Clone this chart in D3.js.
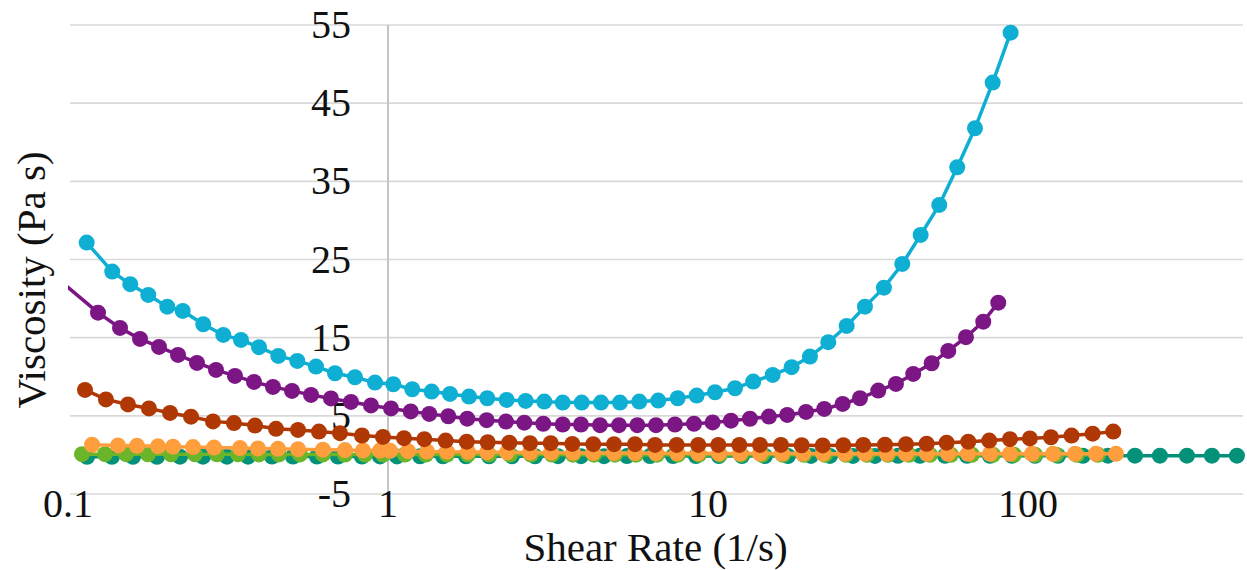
<!DOCTYPE html>
<html>
<head>
<meta charset="utf-8">
<title>Viscosity vs Shear Rate</title>
<script src="https://cdnjs.cloudflare.com/ajax/libs/d3/7.8.5/d3.min.js"></script>
<style>
  body { margin: 0; background: #fff; }
  svg text { font-family: "Liberation Serif", "DejaVu Serif", serif; fill: #111; }
</style>
</head>
<body>
<svg id="chart" width="1247" height="570"></svg>
<script>
// ---- data (shear rate in 1/s, viscosity in Pa s) ----
var tealX = [0.1147,0.1372,0.1596,0.1897,0.2239,0.2641,0.3139,0.3652,0.4341,0.5048,0.5999,0.6978,0.8293,0.9441,1.067,1.259,1.485,1.753,2.069,2.441,2.880,3.398,4.010,4.732,5.583,6.589,7.776,9.173,10.82,12.77,15.07,17.78,20.98,24.06,28.39,33.26,39.25,45.97,55.04,64.48,76.08,89.13,105.2,124.1,148.5,177.8,216.0,258.5,314.0,375.8,450.0];
var tealY = [-0.25,-0.25,-0.24,-0.24,-0.23,-0.23,-0.22,-0.22,-0.21,-0.21,-0.2,-0.2,-0.2,-0.19,-0.19,-0.18,-0.18,-0.18,-0.17,-0.17,-0.17,-0.16,-0.16,-0.16,-0.15,-0.15,-0.15,-0.15,-0.14,-0.14,-0.14,-0.14,-0.13,-0.13,-0.13,-0.13,-0.12,-0.12,-0.12,-0.12,-0.12,-0.11,-0.11,-0.11,-0.11,-0.1,-0.1,-0.1,-0.1,-0.1,-0.1];

var greenX = [0.1106,0.1305,0.1518,0.1778,0.2099,0.2494,0.2921,0.3398,0.3953,0.4564,0.5309,0.6263,0.7339,0.8475,0.9646,1.130,1.314,1.529,1.778,2.069,2.406,2.799,3.255,3.786,4.404,5.122,5.957,6.929,8.058,9.373,10.90,12.68,14.75,17.16,19.95,23.21,26.99,31.40,36.52,42.47,49.41,57.46,66.83,77.74,90.42,105.2,122.3,142.3,165.5];
var greenY = [0.1,0.09,0.09,0.08,0.08,0.07,0.07,0.07,0.06,0.06,0.06,0.06,0.05,0.05,0.05,0.05,0.05,0.04,0.04,0.04,0.04,0.04,0.04,0.03,0.03,0.03,0.03,0.03,0.03,0.03,0.03,0.03,0.02,0.02,0.02,0.02,0.02,0.02,0.02,0.02,0.02,0.02,0.02,0.02,0.02,0.02,0.02,0.02,0.02];

var orangeX = [0.1189,0.1433,0.1643,0.1911,0.2129,0.2458,0.2859,0.3447,0.3924,0.4532,0.5233,0.6263,0.7339,0.8351,0.9441,1.015,1.155,1.324,1.529,1.778,2.039,2.354,2.779,3.232,3.786,4.372,5.085,5.915,6.879,8.001,9.306,10.82,12.59,14.54,17.03,19.81,22.88,26.81,30.95,36.26,41.57,48.35,56.23,64.94,76.08,87.85,102.9,119.7,140.3,163.1,188.4];
var orangeY = [1.30,1.22,1.16,1.10,1.05,1.00,0.94,0.88,0.83,0.78,0.73,0.67,0.62,0.58,0.55,0.52,0.48,0.44,0.41,0.38,0.35,0.33,0.31,0.29,0.27,0.26,0.24,0.23,0.22,0.21,0.20,0.19,0.18,0.18,0.17,0.17,0.16,0.16,0.16,0.15,0.15,0.15,0.15,0.14,0.14,0.14,0.14,0.14,0.14,0.14,0.14];

var brownX = [0.1130,0.1314,0.1540,0.1791,0.2084,0.2423,0.2839,0.3301,0.3841,0.4467,0.5233,0.6085,0.7079,0.8293,0.9646,1.122,1.299,1.514,1.762,2.049,2.394,2.779,3.225,3.767,4.381,5.085,5.915,6.830,7.984,9.325,10.77,12.53,14.54,16.91,19.63,22.83,26.48,30.57,35.74,41.57,48.25,55.71,65.09,75.70,87.85,101.4,118.0,136.9,159.3,184.8];
var brownY = [8.32,7.10,6.46,5.95,5.37,4.89,4.29,4.07,3.75,3.34,3.20,2.99,2.78,2.48,2.30,2.14,2.01,1.83,1.70,1.62,1.57,1.50,1.50,1.41,1.37,1.37,1.37,1.28,1.28,1.28,1.28,1.28,1.28,1.28,1.24,1.22,1.24,1.28,1.30,1.37,1.43,1.57,1.70,1.83,2.01,2.11,2.26,2.47,2.72,2.98];

// first purple point sits just left of the axis start, only its line shows
var purpleX = [0.0911,0.1241,0.1454,0.1679,0.1925,0.2207,0.2530,0.2901,0.3325,0.3813,0.4371,0.5012,0.5746,0.6635,0.7662,0.8849,1.022,1.178,1.346,1.543,1.769,2.034,2.337,2.667,3.057,3.516,4.010,4.598,5.271,6.014,6.879,7.887,9.043,10.34,11.80,13.53,15.51,17.69,20.25,23.09,26.36,29.85,34.06,38.68,43.80,50.02,56.36,64.02,72.51,80.77];
var purpleY = [22.83,18.20,16.25,14.84,13.82,12.79,11.77,10.87,10.11,9.34,8.70,8.19,7.68,7.23,6.78,6.33,5.95,5.56,5.25,4.95,4.64,4.44,4.26,4.12,3.99,3.89,3.89,3.80,3.80,3.80,3.80,3.89,3.99,4.16,4.38,4.63,4.90,5.12,5.50,5.88,6.52,7.25,8.23,9.08,10.36,11.73,13.30,15.06,17.05,19.48];

var cyanX = [0.1144,0.1375,0.1565,0.1782,0.2043,0.2283,0.2647,0.3057,0.3472,0.3953,0.4542,0.5207,0.5957,0.6829,0.7886,0.9108,1.039,1.191,1.369,1.562,1.791,2.043,2.349,2.693,3.079,3.516,4.031,4.632,5.309,6.101,6.993,8.042,9.220,10.52,12.15,13.85,15.93,18.26,20.83,23.77,27.13,30.95,35.48,40.48,46.20,52.83,60.12,68.31,77.58,88.29];
var cyanY = [27.16,23.45,21.84,20.47,18.97,18.42,16.72,15.35,14.71,13.78,12.66,12.03,11.30,10.45,9.94,9.25,9.04,8.40,8.10,7.80,7.46,7.25,7.04,6.91,6.82,6.69,6.69,6.69,6.69,6.82,6.95,7.25,7.59,8.02,8.53,9.38,10.23,11.22,12.58,14.42,16.50,18.97,21.40,24.43,28.14,31.98,36.80,41.79,47.63,54.02];

var xTicks = [0.1, 1, 10, 100];
var yTicks = [-5, 5, 15, 25, 35, 45, 55];

// drawing order: first one ends up at the bottom
var series = [
  {x: tealX, y: tealY, color: "#03917A"},
  {x: greenX, y: greenY, color: "#6BB52A"},
  {x: orangeX, y: orangeY, color: "#FF9E3D"},
  {x: brownX, y: brownY, color: "#B03804"},
  {x: purpleX, y: purpleY, color: "#7C1685"},
  {x: cyanX, y: cyanY, color: "#0FAFD4"}
];

var svg = d3.select("#chart");
// plot box (note: "top" is taken by window.top, so use other names)
var plotL = 68, plotR = 1243, plotT = 25, plotB = 494;

var x = d3.scaleLog().domain([0.1, 470]).range([plotL, plotR]);
var y = d3.scaleLinear().domain([-5, 55]).range([plotB, plotT]);

svg.append("clipPath").attr("id", "plotclip")
  .append("rect").attr("x", plotL).attr("y", plotT - 10)
  .attr("width", plotR - plotL).attr("height", plotB - plotT + 20);

// horizontal grid
svg.append("g").selectAll("line").data(yTicks).enter().append("line")
  .attr("x1", plotL + 2).attr("x2", plotR)
  .attr("y1", function(d) { return y(d); })
  .attr("y2", function(d) { return y(d); })
  .attr("stroke", "#d9d9d9").attr("stroke-width", 1.6);

// vertical axis sits at shear rate = 1
svg.append("line")
  .attr("x1", x(1)).attr("x2", x(1))
  .attr("y1", plotT).attr("y2", plotB)
  .attr("stroke", "#c4c4c4").attr("stroke-width", 2);

// y tick labels, right aligned left of the axis
svg.append("g").selectAll("text").data(yTicks).enter().append("text")
  .attr("x", x(1) - 37)
  .attr("y", function(d) { return y(d) + 13; })
  .attr("text-anchor", "end")
  .attr("font-size", 40)
  .text(function(d) { return d; });

// x tick labels under the plot
svg.append("g").selectAll("text").data(xTicks).enter().append("text")
  .attr("x", function(d) { return x(d); })
  .attr("y", 517)
  .attr("text-anchor", "middle")
  .attr("font-size", 40)
  .text(function(d) { return d; });

// series: line then markers
var plot = svg.append("g");
var line = d3.line()
  .x(function(d) { return x(d[0]); })
  .y(function(d) { return y(d[1]); });

series.forEach(function(s) {
  var pts = s.x.map(function(v, i) { return [v, s.y[i]]; });
  var g = plot.append("g");
  g.append("path")
    .datum(pts)
    .attr("d", line)
    .attr("clip-path", "url(#plotclip)")
    .attr("fill", "none")
    .attr("stroke", s.color)
    .attr("stroke-width", 3.5);
  g.selectAll("circle")
    .data(pts.filter(function(p) { return p[0] >= 0.1; }))
    .enter().append("circle")
    .attr("cx", function(d) { return x(d[0]); })
    .attr("cy", function(d) { return y(d[1]); })
    .attr("r", 8)
    .attr("fill", s.color);
});

// axis titles
svg.append("text")
  .attr("x", (plotL + plotR) / 2).attr("y", 561)
  .attr("text-anchor", "middle")
  .attr("font-size", 41)
  .text("Shear Rate (1/s)");

svg.append("text")
  .attr("transform", "translate(45,280) rotate(-90)")
  .attr("text-anchor", "middle")
  .attr("font-size", 41)
  .text("Viscosity (Pa s)");
</script>
</body>
</html>
